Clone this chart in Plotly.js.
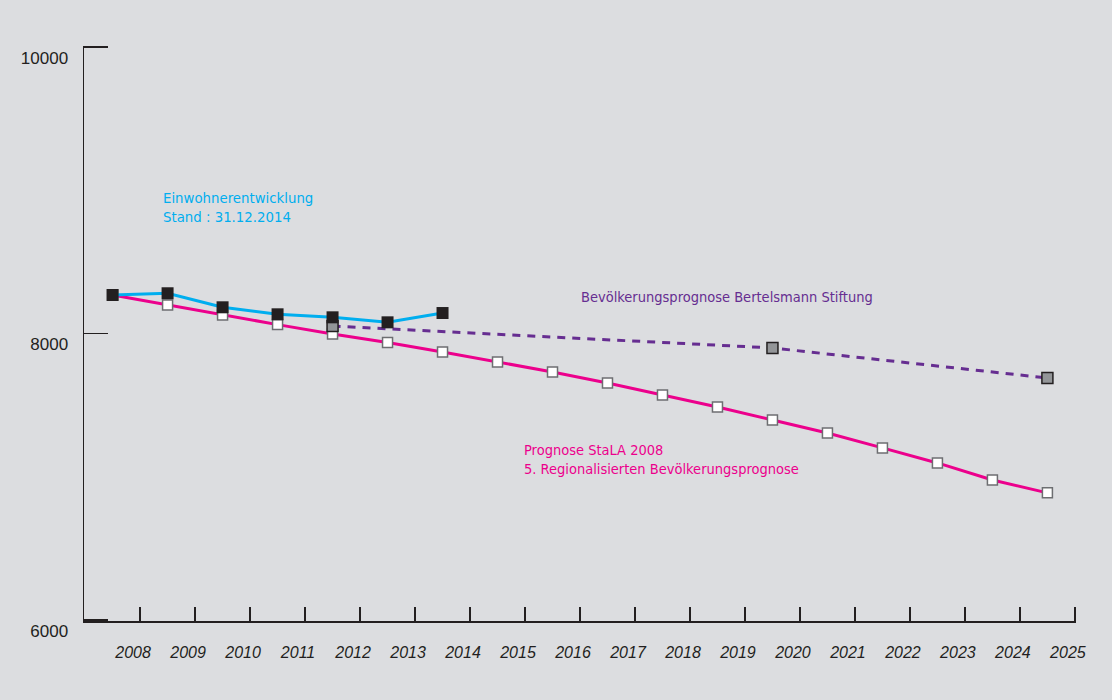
<!DOCTYPE html>
<html>
<head>
<meta charset="utf-8">
<script src="https://cdn.plot.ly/plotly-3.0.1.min.js"></script>
<style>html,body{margin:0;padding:0;background:#dcdde0;}#chart{width:1112px;height:700px;}</style>
</head>
<body>
<div id="chart"></div>
<script>
// Year positions (points sit mid-way between year ticks)
var yearsStaLA = [2008,2009,2010,2011,2012,2013,2014,2015,2016,2017,2018,2019,2020,2021,2022,2023,2024,2025];
var valuesStaLA = [8269,8199,8129,8062,7997,7937,7871,7801,7731,7654,7571,7487,7396,7305,7201,7096,6977,6887];
var yearsActual = [2008,2009,2010,2011,2012,2013,2014];
var valuesActual = [8269,8281,8183,8134,8113,8078,8143];
var yearsBertelsmann = [2012,2020,2025];
var valuesBertelsmann = [8052,7899,7689];
var tickYears = [2008,2009,2010,2011,2012,2013,2014,2015,2016,2017,2018,2019,2020,2021,2022,2023,2024,2025];
var yTicks = [6000,8000,10000];

function pos(arr){ return arr.map(function(v){ return v - 0.5; }); }

var font = "'Liberation Sans Narrow','DejaVu Sans Condensed',sans-serif";

var traces = [
  {x: pos(yearsStaLA), y: valuesStaLA, mode: 'lines+markers', type: 'scatter',
   line: {color: '#ec008c', width: 3},
   marker: {symbol: 'square', size: 10, color: '#ffffff', line: {color: '#6d6e71', width: 1.5}}},
  {x: pos(yearsBertelsmann), y: valuesBertelsmann, mode: 'lines+markers', type: 'scatter',
   line: {color: '#662d91', width: 3, dash: '8px,7px'},
   marker: {symbol: 'square', size: 11, color: '#939598', line: {color: '#231f20', width: 1.5}}},
  {x: pos(yearsActual), y: valuesActual, mode: 'lines+markers', type: 'scatter',
   line: {color: '#00aeef', width: 3},
   marker: {symbol: 'square', size: 12, color: '#231f20', line: {color: '#231f20', width: 0}}}
];

var layout = {
  width: 1112, height: 700,
  paper_bgcolor: '#dcdde0', plot_bgcolor: '#dcdde0',
  margin: {l: 84, r: 36, t: 46, b: 79},
  showlegend: false,
  font: {family: 'Liberation Sans, sans-serif', color: '#231f20'},
  xaxis: {
    range: [2006.98, 2025.02], tickvals: tickYears, ticktext: tickYears.map(String),
    showgrid: false, zeroline: false, showline: true, linecolor: '#231f20', linewidth: 1.5,
    ticks: 'inside', ticklen: 14, tickwidth: 1.5, tickcolor: '#231f20',
    tickfont: {family: 'Liberation Sans, sans-serif', size: 16, color: '#231f20', style: 'italic'},
    ticklabelshift: -7, ticklabelstandoff: 16
  },
  yaxis: {
    range: [5992, 10008], tickvals: yTicks, ticktext: yTicks.map(String),
    showgrid: false, zeroline: false, showline: true, linecolor: '#231f20', linewidth: 1.5,
    ticks: 'inside', ticklen: 24, tickwidth: 1.5, tickcolor: '#231f20',
    tickfont: {family: 'Liberation Sans, sans-serif', size: 17, color: '#231f20'},
    ticklabelshift: 11, ticklabelstandoff: 11
  },
  annotations: [
    {xref: 'paper', yref: 'paper', x: 0.0777, y: 0.7195, xanchor: 'left', yanchor: 'middle', align: 'left',
     showarrow: false, text: 'Einwohnerentwicklung<br>Stand : 31.12.2014',
     font: {family: font, size: 14.8, color: '#00aeef'}},
    {xref: 'paper', yref: 'paper', x: 0.4985, y: 0.5627, xanchor: 'left', yanchor: 'middle', align: 'left',
     showarrow: false, text: 'Bevölkerungsprognose Bertelsmann Stiftung',
     font: {family: font, size: 14.5, color: '#662d91'}},
    {xref: 'paper', yref: 'paper', x: 0.442, y: 0.2805, xanchor: 'left', yanchor: 'middle', align: 'left',
     showarrow: false, text: 'Prognose StaLA 2008<br>5. Regionalisierten Bevölkerungsprognose',
     font: {family: font, size: 14.5, color: '#ec008c'}}
  ]
};

Plotly.newPlot('chart', traces, layout, {displayModeBar: false, staticPlot: true});
</script>
</body>
</html>
